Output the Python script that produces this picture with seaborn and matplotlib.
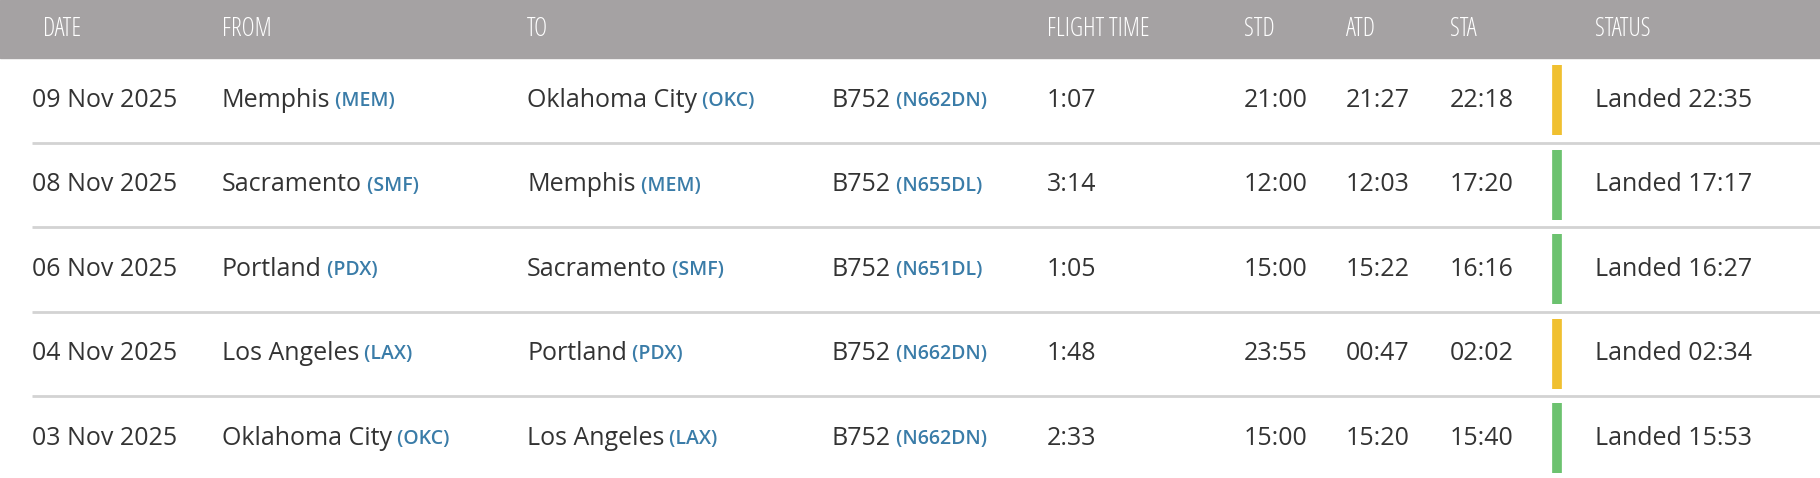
import matplotlib.pyplot as plt
import seaborn as sns

dates = ['09 Nov 2025', '08 Nov 2025', '06 Nov 2025', '04 Nov 2025', '03 Nov 2025']
from_city = ['Memphis', 'Sacramento', 'Portland', 'Los Angeles', 'Oklahoma City']
from_code = ['MEM', 'SMF', 'PDX', 'LAX', 'OKC']
to_city = ['Oklahoma City', 'Memphis', 'Sacramento', 'Portland', 'Los Angeles']
to_code = ['OKC', 'MEM', 'SMF', 'PDX', 'LAX']
aircraft = ['B752'] * 5
regs = ['N662DN', 'N655DL', 'N651DL', 'N662DN', 'N662DN']
flight_time = ['1:07', '3:14', '1:05', '1:48', '2:33']
std = ['21:00', '12:00', '15:00', '23:55', '15:00']
atd = ['21:27', '12:03', '15:22', '00:47', '15:20']
sta = ['22:18', '17:20', '16:16', '02:02', '15:40']
status = ['Landed 22:35', 'Landed 17:17', 'Landed 16:27', 'Landed 02:34', 'Landed 15:53']
late = [True, False, False, True, False]

headers = ['DATE', 'FROM', 'TO', '', 'FLIGHT TIME', 'STD', 'ATD', 'STA', 'STATUS']
header_x = [43, 222, 527, 832, 1047, 1244, 1346, 1450, 1595]
col_x = [32, 222, 527, 832, 1047, 1244, 1346, 1450, 1595]

sns.set_theme(style='white')
plt.rcParams['font.family'] = ['Open Sans', 'DejaVu Sans']

TEXT = '#333333'
CODE = '#3a7ca8'
W, H = 1820, 478
HEAD = 58
ROW = 84.5

fig = plt.figure(figsize=(W / 100, H / 100), dpi=100)
ax = fig.add_axes([0, 0, 1, 1])
ax.set_xlim(0, W)
ax.set_ylim(H, 0)
ax.axis('off')

ax.axhspan(0, HEAD, color='#a5a2a3', zorder=0)
for x, h in zip(header_x, headers):
    ax.text(x, HEAD / 2, h, color='white', fontsize=18, fontweight='light',
            fontstretch='condensed', va='center')


def with_code(x, y, name, code):
    t = ax.text(x, y, name, color=TEXT, fontsize=18, va='center')
    ax.annotate(f' ({code})', xy=(1, 0.47), xycoords=t, color=CODE,
                fontsize=14, fontweight='semibold', va='center', ha='left')


for i in range(len(dates)):
    y = HEAD + ROW * i + ROW / 2
    ax.text(col_x[0], y, dates[i], color=TEXT, fontsize=18, va='center')
    with_code(col_x[1], y, from_city[i], from_code[i])
    with_code(col_x[2], y, to_city[i], to_code[i])
    with_code(col_x[3], y, aircraft[i], regs[i])
    for x, v in zip(col_x[4:], [flight_time[i], std[i], atd[i], sta[i], status[i]]):
        ax.text(x, y, v, color=TEXT, fontsize=18, va='center')
    ax.vlines(1557, y - 35, y + 35, color='#f0c030' if late[i] else '#6cc26f', lw=7)
    if i < len(dates) - 1:
        ax.hlines(HEAD + ROW * (i + 1), 32, W, color='#d3d3d3', lw=2)

fig.savefig('out.png', dpi=100)
